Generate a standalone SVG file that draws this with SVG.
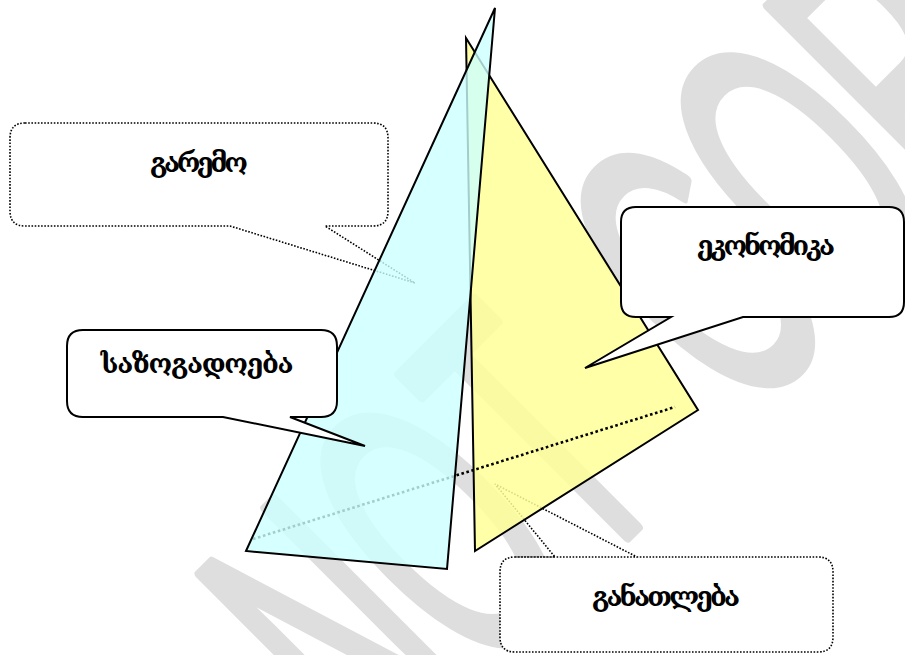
<svg xmlns="http://www.w3.org/2000/svg" width="905" height="655" viewBox="0 0 905 655">
<style>
.lbl{font-family:"DejaVu Serif","DejaVu Sans",serif;font-size:27px;font-weight:bold;fill:#000;text-anchor:middle}
.dot{fill:#fff;stroke:#000;stroke-width:1.6;stroke-dasharray:1.6 1.6}
.sol{fill:#fff;stroke:#000;stroke-width:2}
.tri{stroke:#000;stroke-width:2;stroke-linejoin:miter}
.wm{font-family:"Liberation Sans",sans-serif;font-size:196px;fill:#dedede;stroke:#dedede;stroke-width:9;stroke-linejoin:round;stroke-linecap:round;word-spacing:45px}
</style>
<rect width="905" height="655" fill="#fff"/>
<text class="wm" vector-effect="non-scaling-stroke" transform="translate(382,782) rotate(-45) scale(1,2.04)">NOT COPY</text>
<g id="garemo">
<path class="dot" d="M25,123 H373 Q388,123 388,138 V211 Q388,226 373,226 H325 L415,283 L230,226 H25 Q10,226 10,211 V138 Q10,123 25,123 Z"/>
<text class="lbl" x="199" y="172" textLength="98" lengthAdjust="spacing">გარემო</text>
</g>
<g id="ganatleba">
<path class="dot" d="M515,557 H818 Q833,557 833,572 V637 Q833,652 818,652 H515 Q500,652 500,637 V572 Q500,557 515,557 H555 L495,484 L637,557"/>
<text class="lbl" x="666" y="606" textLength="148" lengthAdjust="spacing">განათლება</text>
</g>
<g id="triangles">
<polygon id="yellow" class="tri" fill="#ffff99" fill-opacity="0.85" points="466,38 698,410 475,551"/>
<g id="connectors">
<line x1="253" y1="539" x2="675" y2="407" stroke="#000" stroke-width="2.6" stroke-dasharray="2.6 2.6"/>
</g>
<polygon id="cyan" class="tri" fill="#ccffff" fill-opacity="0.8" points="495,8 246,551 447,569"/>
</g>
<g id="sazogadoeba">
<path class="sol" d="M83,330 H321 Q337,330 337,346 V401 Q337,417 321,417 H290 L365,446 L223,417 H83 Q67,417 67,401 V346 Q67,330 83,330 Z"/>
<text class="lbl" x="197" y="373" textLength="193" lengthAdjust="spacing">საზოგადოება</text>
</g>
<g id="ekonomika">
<path class="sol" d="M636,207 H889 Q904,207 904,222 V302 Q904,317 889,317 H743 L585,368 L671,317 H636 Q621,317 621,302 V222 Q621,207 636,207 Z"/>
<text class="lbl" x="766" y="255" textLength="138" lengthAdjust="spacing">ეკონომიკა</text>
</g>
</svg>
